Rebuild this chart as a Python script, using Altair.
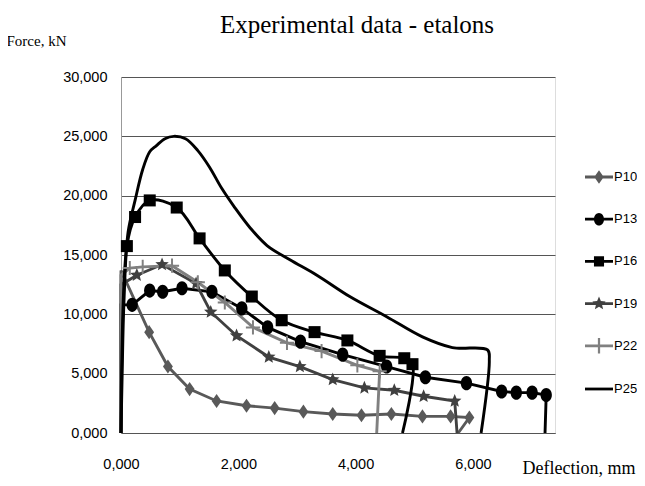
import altair as alt
import pandas as pd

series_names = ["P10", "P13", "P16", "P19", "P22", "P25"]

p10_x = [0, 0, 0.48, 0.80, 1.17, 1.63, 2.14, 2.62, 3.11, 3.61, 4.10, 4.61, 5.14, 5.62, 5.94, 5.75]
p10_y = [0, 13.7, 8.5, 5.6, 3.7, 2.7, 2.3, 2.1, 1.8, 1.6, 1.5, 1.6, 1.4, 1.4, 1.3, 0]

p13_x = [0, 0, 0.19, 0.49, 0.71, 1.04, 1.55, 2.06, 2.50, 3.06, 3.78, 4.53, 5.19, 5.89, 6.49, 6.74, 7.01, 7.25, 7.23]
p13_y = [0, 10.8, 10.8, 12.0, 11.9, 12.2, 11.9, 10.5, 8.9, 7.7, 6.6, 5.6, 4.7, 4.2, 3.5, 3.4, 3.4, 3.2, 0]

p16_x = [0, 0.10, 0.24, 0.49, 0.95, 1.34, 1.77, 2.23, 2.74, 3.30, 3.86, 4.41, 4.83, 4.97, 4.80]
p16_y = [0, 15.75, 18.2, 19.6, 19.0, 16.4, 13.7, 11.5, 9.5, 8.5, 7.8, 6.5, 6.3, 5.8, 0]

p19_x = [0, 0, 0.27, 0.70, 1.28, 1.53, 1.97, 2.52, 3.05, 3.61, 4.15, 4.66, 5.16, 5.69, 5.73]
p19_y = [0, 12.5, 13.3, 14.2, 12.6, 10.2, 8.2, 6.4, 5.6, 4.5, 3.8, 3.6, 3.1, 2.7, 0]

p22_x = [0, 0, 0.15, 0.37, 0.87, 1.31, 1.77, 2.25, 2.83, 3.42, 4.03, 4.41, 4.36]
p22_y = [0, 13.3, 13.9, 14.0, 14.1, 12.7, 11.0, 8.9, 7.6, 6.9, 5.7, 5.2, 0]

p25_x = [0, 0.02, 0.05, 0.12, 0.24, 0.37, 0.49, 0.60, 0.75, 0.90, 1.10, 1.31, 1.51, 1.72, 1.94,
         2.20, 2.49, 2.88, 3.34, 3.90, 4.53, 5.14, 5.65, 6.25, 6.28, 6.14]
p25_y = [0, 5.0, 11.0, 16.9, 19.6, 22.2, 23.7, 24.2, 24.8, 25.0, 24.8, 23.8, 22.4, 20.6, 19.0,
         17.3, 15.8, 14.6, 13.3, 11.5, 9.8, 8.1, 7.2, 7.0, 6.1, 0]

x_ticks = [0, 2, 4, 6]
y_ticks = [0, 5, 10, 15, 20, 25, 30]

colors = ["#595959", "#000000", "#000000", "#404040", "#808080", "#000000"]

rows = []
for name, xs, ys in zip(series_names,
                        [p10_x, p13_x, p16_x, p19_x, p22_x, p25_x],
                        [p10_y, p13_y, p16_y, p19_y, p22_y, p25_y]):
    for i, (xv, yv) in enumerate(zip(xs, ys)):
        rows.append({"series": name, "x": xv, "y": yv, "idx": i})
df = pd.DataFrame(rows)

# marker paths for the plotted points
diamond = "M0,-1L0.7,0L0,1L-0.7,0Z"
circle = "M-0.8,0A0.8,1 0 1,1 0.8,0A0.8,1 0 1,1 -0.8,0Z"
square = "M-0.85,-0.85L0.85,-0.85L0.85,0.85L-0.85,0.85Z"
star = ("M0,-1L0.265,-0.364L0.951,-0.309L0.428,0.139L0.588,0.809L0,0.45"
        "L-0.588,0.809L-0.428,0.139L-0.951,-0.309L-0.265,-0.364Z")
plus = ("M-0.14,-1L0.14,-1L0.14,-0.14L1,-0.14L1,0.14L0.14,0.14L0.14,1"
        "L-0.14,1L-0.14,0.14L-1,0.14L-1,-0.14L-0.14,-0.14Z")
point_shapes = [diamond, circle, square, star, plus]

# legend symbols: a line bar + marker
bar = "M-1,-0.1L1,-0.1L1,0.1L-1,0.1Z"
lg_diamond = bar + "M0,-0.48L0.34,0L0,0.48L-0.34,0Z"
lg_circle = bar + "M-0.36,0A0.36,0.45 0 1,1 0.36,0A0.36,0.45 0 1,1 -0.36,0Z"
lg_square = bar + "M-0.36,-0.36L0.36,-0.36L0.36,0.36L-0.36,0.36Z"
lg_star = bar + ("M0,-0.5L0.133,-0.182L0.476,-0.155L0.214,0.07L0.294,0.405L0,0.225"
                 "L-0.294,0.405L-0.214,0.07L-0.476,-0.155L-0.133,-0.182Z")
lg_plus = bar + "M-0.08,-0.55L0.08,-0.55L0.08,0.55L-0.08,0.55Z"
legend_shapes = [lg_diamond, lg_circle, lg_square, lg_star, lg_plus, bar]

label_font = "Liberation Sans, Arial, sans-serif"
serif = "Liberation Serif, Times New Roman, serif"

x_enc = alt.X(
    "x:Q",
    scale=alt.Scale(domain=[0, 7.4], nice=False, zero=False),
    axis=alt.Axis(
        values=x_ticks,
        labelExpr="replace(format(datum.value, '.3f'), '.', ',')",
        grid=False, ticks=False, tickSize=0, domain=True, domainColor="#555555",
        labelFont=label_font, labelFontSize=14.5, labelColor="#000000",
        labelPadding=24, labelBaseline="top", labelFlush=False, labelOverlap=False,
        title="Deflection, mm", titleFont=serif, titleFontSize=18, titleFontWeight="normal",
        titleColor="#000000", titleX=514, titleY=40, titleAlign="right",
        titleBaseline="alphabetic", titleAnchor="end",
    ),
)
y_enc = alt.Y(
    "y:Q",
    scale=alt.Scale(domain=[0, 30], nice=False),
    axis=alt.Axis(
        values=y_ticks,
        labelExpr="replace(format(datum.value, '.3f'), '.', ',')",
        grid=True, gridColor="#555555", gridWidth=1,
        ticks=False, tickSize=0, domain=True, domainColor="#999999",
        labelFont=label_font, labelFontSize=14.5, labelColor="#000000",
        labelPadding=14, labelFlush=False, labelOverlap=False,
        title="Force, kN", titleFont=serif, titleFontSize=15, titleFontWeight="normal",
        titleColor="#000000", titleAngle=0, titleX=-115, titleY=-32,
        titleAlign="left", titleBaseline="alphabetic",
    ),
)
order_enc = alt.Order("idx:Q")
col_scale = alt.Scale(domain=series_names, range=colors)

base = alt.Chart(df)

lines_lin = base.transform_filter(
    "datum.series != 'P16' && datum.series != 'P25'"
).mark_line(strokeWidth=2.9).encode(
    x=x_enc, y=y_enc, order=order_enc, detail="series:N",
    color=alt.Color("series:N", scale=col_scale, legend=None),
)

lines_smooth = base.transform_filter(
    "datum.series == 'P16' || datum.series == 'P25'"
).mark_line(strokeWidth=2.9, interpolate="catmull-rom").encode(
    x=x_enc, y=y_enc, order=order_enc, detail="series:N",
    color=alt.Color("series:N", scale=col_scale, legend=None),
)

points = base.transform_filter(
    "datum.x > 0 && datum.y > 0 && datum.series != 'P25'"
).mark_point(filled=True, opacity=1, size=200, strokeWidth=0).encode(
    x=x_enc, y=y_enc,
    color=alt.Color("series:N", scale=alt.Scale(domain=series_names[:5], range=colors[:5]), legend=None),
    shape=alt.Shape("series:N", scale=alt.Scale(domain=series_names[:5], range=point_shapes), legend=None),
)

leg = alt.Legend(
    orient="none", legendX=464, legendY=86, title=None,
    symbolSize=784, symbolStrokeWidth=0, symbolOpacity=1,
    labelFont=label_font, labelFontSize=13, labelColor="#000000",
    labelOffset=1, rowPadding=21.2, padding=0,
)
legend_layer = base.transform_filter("false").mark_point(filled=True, opacity=1).encode(
    x=x_enc, y=y_enc,
    color=alt.Color("series:N", scale=alt.Scale(domain=series_names, range=colors), legend=leg),
    shape=alt.Shape("series:N", scale=alt.Scale(domain=series_names, range=legend_shapes), legend=leg),
)

chart = alt.layer(lines_lin, lines_smooth, points, legend_layer).resolve_scale(
    color="independent", shape="independent"
).properties(
    width=434, height=356,
    autosize=alt.AutoSizeParams(type="none"),
    padding={"left": 113, "top": 69, "right": 82, "bottom": 45},
    title=alt.TitleParams(
        "Experimental data - etalons", font=serif, fontSize=25, fontWeight="normal",
        color="#000000", anchor="middle", dx=19, offset=-5,
    ),
).configure_view(strokeWidth=0).configure(background="#ffffff")

chart.save("out.html", embed_options={"renderer": "svg", "actions": False})
